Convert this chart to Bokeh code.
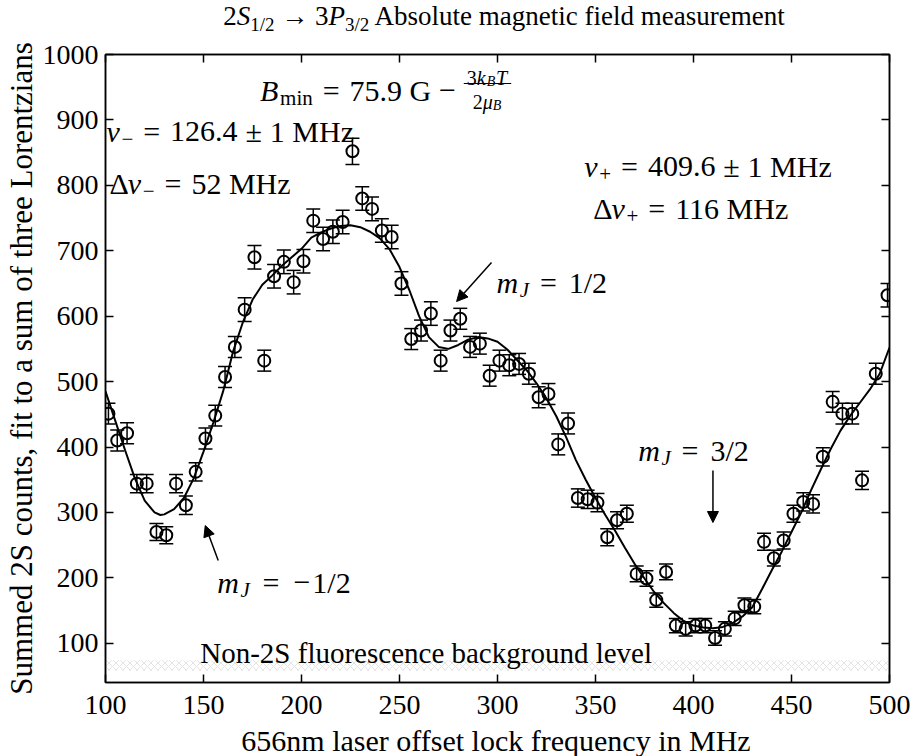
import numpy as np
from bokeh.plotting import figure
from bokeh.layouts import column
from bokeh.models import (ColumnDataSource, Whisker, TeeHead, Label, Arrow, NormalHead,
                          FixedTicker, LinearAxis, Range1d, Div)
from bokeh.embed import file_html
from bokeh.resources import INLINE

# ---------------- data ----------------
freq = [101.5, 106, 111, 116, 121, 126, 131, 136, 141, 146,
        151, 156, 161, 166, 171, 176, 181, 186, 191, 196,
        201, 206, 211, 216, 221, 226, 231, 236, 241, 246,
        251, 256, 261, 266, 271, 276, 281, 286, 291, 296,
        301, 306, 311, 316, 321, 326, 331, 336, 341, 346,
        351, 356, 361, 366, 371, 376, 381, 386, 391, 396,
        401, 406, 411, 416, 421, 426, 431, 436, 441, 446,
        451, 456, 461, 466, 471, 476, 481, 486, 493, 499]
counts = [451, 410, 421, 344, 344, 270, 265, 344, 311, 362,
          413, 448, 507, 553, 610, 690, 532, 661, 683, 652,
          684, 746, 718, 729, 744, 852, 780, 764, 731, 721,
          650, 565, 578, 604, 532, 578, 596, 553, 558, 509,
          532, 525, 527, 512, 476, 481, 404, 436, 322, 320,
          315, 262, 288, 298, 206, 199, 166, 209, 127, 122,
          127, 127, 108, 122, 138, 158, 156, 255, 230, 257,
          298, 316, 313, 385, 469, 451, 451, 349, 512, 632]
count_err = [16, 16, 16, 14, 14, 13, 13, 14, 14, 14,
             16, 16, 16, 16, 18, 18, 16, 18, 18, 18,
             18, 18, 18, 18, 18, 20, 18, 18, 18, 18,
             18, 16, 16, 18, 16, 16, 16, 16, 16, 16,
             16, 16, 16, 16, 16, 16, 16, 16, 14, 14,
             14, 13, 13, 13, 12, 12, 11, 12, 11, 11,
             11, 11, 11, 11, 11, 11, 11, 13, 12, 13,
             13, 14, 14, 14, 16, 16, 16, 14, 16, 18]

fit_freq = [100, 105, 110, 115, 120, 125, 128, 130, 135, 140, 145, 150, 155, 160, 165,
            170, 175, 180, 185, 190, 195, 200, 205, 210, 215, 220, 225, 230, 235, 240,
            245, 250, 255, 260, 265, 270, 275, 280, 285, 290, 295, 300, 305, 310, 315,
            320, 325, 330, 335, 340, 345, 350, 355, 360, 365, 370, 375, 380, 385, 390,
            395, 400, 405, 410, 415, 420, 425, 430, 435, 440, 445, 450, 455, 460, 465,
            470, 475, 480, 485, 490, 495, 500]
fit_counts = [485, 440, 395, 352, 318, 300, 296, 297, 305, 322, 352, 393, 437, 485, 545,
              590, 625, 648, 662, 677, 690, 703, 720, 728, 734, 738, 739, 736, 729, 719,
              702, 675, 640, 600, 568, 553, 550, 556, 564, 568, 566, 561, 549, 533, 517,
              497, 474, 447, 415, 380, 350, 322, 296, 272, 246, 221, 199, 178, 161, 146,
              134, 127, 124, 123, 125, 131, 141, 155, 183, 212, 240, 270, 300, 334, 366,
              397, 425, 448, 468, 488, 512, 552]

x_ticks = [100, 150, 200, 250, 300, 350, 400, 450, 500]
y_ticks = [100, 200, 300, 400, 500, 600, 700, 800, 900, 1000]
x_limits = (100, 500)
y_limits = (40, 1000)
bg_band = (58, 74)   # non-2S fluorescence background level band

# ---------------- layout constants (page pixels) ----------------
FONT = "Liberation Serif"
W, H = 916, 756
TITLE_H = 36
XLAB_H = 28
FL, FR, FT, FB = 103, 889, 54, 682
SX = (FR - FL) / (x_limits[1] - x_limits[0])
SY = (FB - FT) / (y_limits[1] - y_limits[0])


def X(px):
    return x_limits[0] + (px - FL) / SX


def Y(py):
    return y_limits[1] - (py - FT) / SY


title = Div(text=('<div style="font-family:\'Liberation Serif\'; font-size:27px; color:black;'
                  ' text-align:center; line-height:32px; padding-left:92px; width:916px;">'
                  '2<i>S</i><sub style="font-size:19px">1/2</sub> &rarr; '
                  '3<i>P</i><sub style="font-size:19px">3/2</sub> '
                  'Absolute magnetic field measurement</div>'),
            width=W, height=TITLE_H, margin=(0, 0, 0, 0))

xlabel = Div(text=('<div style="font-family:\'Liberation Serif\'; font-size:30px; color:black;'
                   ' text-align:center; line-height:26px; padding-left:76px; width:916px;">'
                   '656nm laser offset lock frequency in MHz</div>'),
             width=W, height=XLAB_H, margin=(0, 0, 0, 0))

fig_h = H - TITLE_H - XLAB_H
p = figure(width=W, height=fig_h, x_range=Range1d(*x_limits),
           y_range=Range1d(*y_limits),
           output_backend="svg", toolbar_location=None, margin=(0, 0, 0, 0),
           min_border_left=FL, min_border_right=W - FR, min_border_top=FT - TITLE_H,
           min_border_bottom=(TITLE_H + fig_h) - FB,
           y_axis_label="Summed 2S counts, fit to a sum of three Lorentzians")
p.background_fill_color = "white"
p.border_fill_color = "white"
p.outline_line_color = "black"
p.outline_line_width = 1.5
p.xgrid.visible = False
p.ygrid.visible = False
p.xaxis.ticker = FixedTicker(ticks=x_ticks)
p.yaxis.ticker = FixedTicker(ticks=y_ticks)


def style_axis(ax, show_labels=True):
    ax.axis_line_color = "black"
    ax.axis_line_width = 1.5
    ax.major_tick_in = 8
    ax.major_tick_out = 0
    ax.major_tick_line_width = 1.5
    ax.major_tick_line_color = "black"
    ax.minor_tick_line_color = None
    ax.major_label_text_font = FONT
    if show_labels:
        ax.major_label_text_color = "black"
        ax.major_label_text_font_size = "28px"
        ax.major_label_standoff = 8
    else:
        ax.major_label_text_color = None
        ax.major_label_text_font_size = "1px"
        ax.major_label_standoff = 0
    ax.axis_label_text_font = FONT
    ax.axis_label_text_font_size = "30px"
    ax.axis_label_text_font_style = "normal"
    ax.axis_label_text_color = "black"
    ax.axis_label_standoff = 2


for ax in p.xaxis + p.yaxis:
    style_axis(ax)
p.xaxis.major_label_standoff = 13
p.yaxis.axis_label_text_font_size = "31px"
p.yaxis.major_label_standoff = 7
p.yaxis.axis_label_standoff = 1
top_ax = LinearAxis(ticker=FixedTicker(ticks=x_ticks))
right_ax = LinearAxis(ticker=FixedTicker(ticks=y_ticks))
style_axis(top_ax, False)
style_axis(right_ax, False)
p.add_layout(top_ax, "above")
p.add_layout(right_ax, "right")

# background band
p.quad(left=[x_limits[0]], right=[x_limits[1]], bottom=[bg_band[0]], top=[bg_band[1]],
       fill_alpha=0, line_alpha=0, hatch_pattern="diagonal_cross", hatch_color="#a8a8a8",
       hatch_alpha=0.55, hatch_scale=7, hatch_weight=0.6)

# fit curve
p.line(fit_freq, fit_counts, line_color="black", line_width=2)

# data with error bars
c = np.array(counts, dtype=float)
e = np.array(count_err, dtype=float)
src = ColumnDataSource(dict(x=freq, y=counts, upper=c + e, lower=c - e))
p.add_layout(Whisker(source=src, base="x", upper="upper", lower="lower",
                     line_color="black", line_width=1.5,
                     upper_head=TeeHead(size=14, line_width=1.5, line_color="black"),
                     lower_head=TeeHead(size=14, line_width=1.5, line_color="black")))
p.scatter("x", "y", source=src, marker="circle", size=12, fill_color=None,
          line_color="black", line_width=2)

# ---------------- text helpers ----------------
WID = {' ': .25, '.': .25, ',': .25, '=': .564, '±': .549, '−': .564, '+': .564,
       '/': .278, '→': 1.0, 'Δ': .612, 'ν': .5, 'μ': .5, '-': .333,
       'A': .722, 'B': .667, 'G': .722, 'H': .722, 'J': .389, 'M': .889, 'N': .722,
       'P': .556, 'S': .556, 'T': .611,
       'a': .444, 'b': .5, 'c': .444, 'd': .5, 'e': .444, 'f': .333, 'g': .5, 'h': .5,
       'i': .278, 'k': .5, 'l': .278, 'm': .778, 'n': .5, 'o': .5, 'r': .333, 's': .389,
       't': .278, 'u': .5, 'v': .5, 'z': .444}


def tw(s, size):
    return sum(WID.get(ch, .5) for ch in s) * size


def put(txt, px, py, size, italic=False, align="left"):
    p.add_layout(Label(x=X(px), y=Y(py), text=txt, text_font=FONT,
                       text_font_size=f"{size}px",
                       text_font_style="italic" if italic else "normal",
                       text_baseline="alphabetic", text_align=align, text_color="black"))


def chain(px, py, parts):
    """parts: (text, size, italic, dy) tuples, or a number = gap in px"""
    for part in parts:
        if isinstance(part, (int, float)):
            px += part
            continue
        t, s, it, dy = part
        put(t, px, py + dy, s, it)
        px += tw(t, s)
    return px


A, S = 30, 21  # annotation size, subscript size
EQ = 10        # math spacing around relations
PM = 8         # math spacing around binary operators

# B_min
xe = chain(258, 90, [("B", A, True, 0), ("min", S, False, 7), EQ, ("=", A, False, 0), EQ,
                     ("75.9 G", A, False, 0), PM, ("−", A, False, 0), PM])
num_w = tw("3kT", 20) + tw("B", 14)
den_w = tw("2μ", 20) + tw("B", 14)
fw = max(num_w, den_w) + 6
chain(xe + (fw - num_w) / 2, 77, [("3", 20, False, 0), ("k", 20, True, 0),
                                  ("B", 14, True, 4), ("T", 20, True, 0)])
chain(xe + (fw - den_w) / 2, 101, [("2", 20, False, 0), ("μ", 20, True, 0), ("B", 14, True, 4)])
p.add_layout(Arrow(end=None, x_start=X(xe), y_start=Y(83), x_end=X(xe + fw), y_end=Y(83),
                   line_color="black", line_width=1))

# nu_- / nu_+ and widths
chain(104, 131, [("ν", A, True, 0), ("−", S, False, 7), EQ, ("=", A, False, 0), EQ,
                 ("126.4", A, False, 0), PM, ("±", A, False, 0), PM, ("1 MHz", A, False, 0)])
chain(107, 183, [("Δ", A, False, 0), ("ν", A, True, 0), ("−", S, False, 7), EQ,
                 ("=", A, False, 0), EQ, ("52 MHz", A, False, 0)])
chain(583, 166, [("ν", A, True, 0), ("+", S, False, 7), EQ, ("=", A, False, 0), EQ,
                 ("409.6", A, False, 0), PM, ("±", A, False, 0), PM, ("1 MHz", A, False, 0)])
chain(592, 208, [("Δ", A, False, 0), ("ν", A, True, 0), ("+", S, False, 7), EQ,
                 ("=", A, False, 0), EQ, ("116 MHz", A, False, 0)])

# m_J labels
chain(495, 282, [("m", A, True, 0), ("J", S, True, 7), EQ + 2, ("=", A, False, 0), EQ + 2,
                 ("1/2", A, False, 0)])
chain(215, 582, [("m", A, True, 0), ("J", S, True, 7), EQ + 4, ("=", A, False, 0), EQ + 4,
                 ("−", A, False, 0), 2, ("1/2", A, False, 0)])
chain(637, 450, [("m", A, True, 0), ("J", S, True, 7), EQ + 2, ("=", A, False, 0), EQ + 2,
                 ("3/2", A, False, 0)])

put("Non-2S fluorescence background level", 198, 652, 29)

# arrows
for (x0, y0, x1, y1) in [(490, 262, 455, 301), (216, 560, 203, 525), (712, 470, 712, 522)]:
    p.add_layout(Arrow(end=NormalHead(size=11, fill_color="black", line_color="black",
                                      line_width=1),
                       x_start=X(x0), y_start=Y(y0), x_end=X(x1), y_end=Y(y1),
                       line_color="black", line_width=1.5))

layout = column(title, p, xlabel, spacing=0, margin=(0, 0, 0, 0))
open("out.html", "w").write(file_html(layout, INLINE))
